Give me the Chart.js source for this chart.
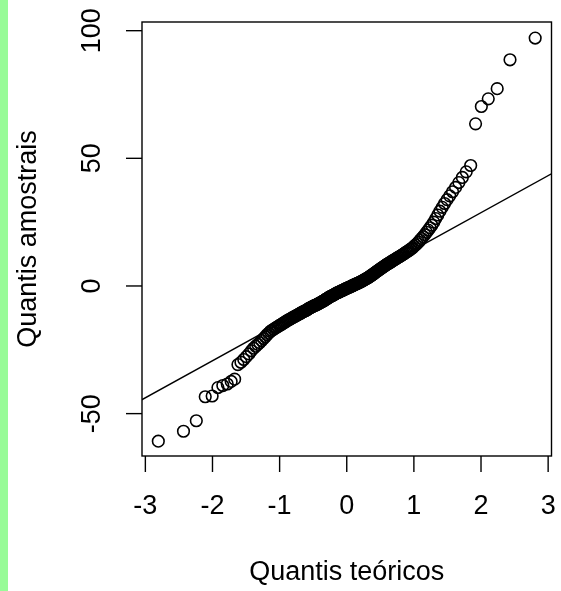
<!DOCTYPE html>
<html>
<head>
<meta charset="utf-8">
<script src="https://cdn.jsdelivr.net/npm/chart.js@4/dist/chart.umd.min.js"></script>
<style>
  html, body { margin: 0; padding: 0; background: #fff; }
  canvas { display: block; }
</style>
</head>
<body>
<canvas id="qq" width="561" height="591"></canvas>
<script>
// theoretical normal quantiles (x) and sorted sample values (y)
const teoricos = [
  -2.807, -2.432, -2.241, -2.108, -2.005, -1.919, -1.846, -1.780, -1.722, -1.670,
  -1.621, -1.576, -1.534, -1.495, -1.457, -1.422, -1.388, -1.356, -1.325, -1.296,
  -1.267, -1.240, -1.213, -1.188, -1.163, -1.138, -1.115, -1.092, -1.069, -1.047,
  -1.026, -1.005, -0.984, -0.964, -0.944, -0.925, -0.906, -0.887, -0.868, -0.850,
  -0.833, -0.815, -0.798, -0.781, -0.764, -0.747, -0.731, -0.714, -0.698, -0.682,
  -0.667, -0.651, -0.636, -0.620, -0.605, -0.590, -0.575, -0.561, -0.546, -0.532,
  -0.517, -0.503, -0.489, -0.475, -0.461, -0.447, -0.433, -0.419, -0.406, -0.392,
  -0.378, -0.365, -0.352, -0.338, -0.325, -0.312, -0.299, -0.286, -0.273, -0.260,
  -0.247, -0.234, -0.221, -0.208, -0.196, -0.183, -0.170, -0.157, -0.145, -0.132,
  -0.119, -0.107, -0.094, -0.082, -0.069, -0.056, -0.044, -0.031, -0.019, -0.006,
  0.006, 0.019, 0.031, 0.044, 0.056, 0.069, 0.082, 0.094, 0.107, 0.119,
  0.132, 0.145, 0.157, 0.170, 0.183, 0.196, 0.208, 0.221, 0.234, 0.247,
  0.260, 0.273, 0.286, 0.299, 0.312, 0.325, 0.338, 0.352, 0.365, 0.378,
  0.392, 0.406, 0.419, 0.433, 0.447, 0.461, 0.475, 0.489, 0.503, 0.517,
  0.532, 0.546, 0.561, 0.575, 0.590, 0.605, 0.620, 0.636, 0.651, 0.667,
  0.682, 0.698, 0.714, 0.731, 0.747, 0.764, 0.781, 0.798, 0.815, 0.833,
  0.850, 0.868, 0.887, 0.906, 0.925, 0.944, 0.964, 0.984, 1.005, 1.026,
  1.047, 1.069, 1.092, 1.115, 1.138, 1.163, 1.188, 1.213, 1.240, 1.267,
  1.296, 1.325, 1.356, 1.388, 1.422, 1.457, 1.495, 1.534, 1.576, 1.621,
  1.670, 1.722, 1.780, 1.846, 1.919, 2.005, 2.108, 2.241, 2.432, 2.807
];

const amostrais = [
  -60.8, -56.9, -52.8, -43.4, -43.1, -39.8, -39.0, -38.4, -37.4, -36.5,
  -30.8, -29.9, -28.8, -27.7, -26.6, -25.4, -24.4, -23.6, -22.9, -22.2,
  -21.4, -20.6, -19.9, -19.1, -18.5, -17.8, -17.4, -17.0, -16.6, -16.2,
  -15.9, -15.5, -15.2, -14.9, -14.5, -14.2, -13.9, -13.6, -13.3, -13.1,
  -12.8, -12.5, -12.3, -12.0, -11.8, -11.5, -11.3, -11.0, -10.8, -10.6,
  -10.3, -10.1, -9.9, -9.7, -9.5, -9.3, -9.0, -8.8, -8.6, -8.4,
  -8.2, -8.0, -7.8, -7.6, -7.5, -7.3, -7.1, -6.9, -6.7, -6.5,
  -6.3, -6.1, -5.9, -5.7, -5.5, -5.2, -5.0, -4.8, -4.6, -4.4,
  -4.2, -4.0, -3.9, -3.7, -3.5, -3.3, -3.1, -2.9, -2.7, -2.6,
  -2.4, -2.3, -2.1, -1.9, -1.8, -1.6, -1.5, -1.3, -1.1, -1.0,
  -0.8, -0.7, -0.5, -0.4, -0.2, -0.1, 0.1, 0.2, 0.4, 0.5,
  0.7, 0.8, 1.0, 1.1, 1.3, 1.5, 1.6, 1.8, 2.0, 2.2,
  2.4, 2.6, 2.8, 3.0, 3.2, 3.4, 3.6, 3.9, 4.1, 4.4,
  4.6, 4.9, 5.1, 5.4, 5.7, 5.9, 6.2, 6.5, 6.7, 7.0,
  7.3, 7.5, 7.8, 8.1, 8.3, 8.6, 8.8, 9.1, 9.3, 9.6,
  9.8, 10.1, 10.3, 10.6, 10.9, 11.2, 11.4, 11.7, 12.0, 12.3,
  12.6, 12.9, 13.3, 13.6, 13.9, 14.3, 14.6, 15.0, 15.6, 16.1,
  16.6, 17.2, 17.9, 18.6, 19.3, 20.1, 21.0, 21.9, 22.8, 23.8,
  25.0, 26.4, 27.8, 29.3, 30.8, 32.3, 33.8, 35.3, 36.9, 38.6,
  40.5, 42.5, 44.7, 47.2, 63.5, 70.3, 73.3, 77.3, 88.6, 97.1
];

// reference line through the quartiles (clipped to the plot box)
const linhaX = [-3.2, 3.2];
const linhaY = [-46.7, 46.1];

const ticksX = [-3, -2, -1, 0, 1, 2, 3];
const ticksY = [-50, 0, 50, 100];

const FONTE = '27px "Liberation Sans", Arial, Helvetica, sans-serif';

// R-style frame: box, outward ticks, rotated y labels, green strip at the left
const estiloR = {
  id: 'estiloR',
  beforeDraw(chart) {
    const ctx = chart.ctx;
    ctx.save();
    ctx.fillStyle = '#ffffff';
    ctx.fillRect(0, 0, chart.width, chart.height);
    ctx.fillStyle = '#98fb98';
    ctx.fillRect(0, 0, 8, chart.height);
    ctx.restore();
  },
  afterDraw(chart) {
    const ctx = chart.ctx;
    const a = chart.chartArea;
    const sx = chart.scales.x;
    const sy = chart.scales.y;
    ctx.save();
    ctx.strokeStyle = '#000';
    ctx.lineWidth = 1.4;
    ctx.strokeRect(a.left, a.top, a.right - a.left, a.bottom - a.top);

    ctx.fillStyle = '#000';
    ctx.font = FONTE;
    ctx.textAlign = 'center';
    ctx.textBaseline = 'middle';

    ticksX.forEach(v => {
      const px = sx.getPixelForValue(v);
      ctx.beginPath();
      ctx.moveTo(px, a.bottom);
      ctx.lineTo(px, a.bottom + 16);
      ctx.stroke();
      ctx.fillText(String(v), px, 507);
    });

    ticksY.forEach(v => {
      const py = sy.getPixelForValue(v);
      ctx.beginPath();
      ctx.moveTo(a.left - 16, py);
      ctx.lineTo(a.left, py);
      ctx.stroke();
      ctx.save();
      ctx.translate(93, py);
      ctx.rotate(-Math.PI / 2);
      ctx.fillText(String(v), 0, 0);
      ctx.restore();
    });

    ctx.fillText('Quantis teóricos', (a.left + a.right) / 2, 573);
    ctx.save();
    ctx.translate(29, (a.top + a.bottom) / 2);
    ctx.rotate(-Math.PI / 2);
    ctx.fillText('Quantis amostrais', 0, 0);
    ctx.restore();
    ctx.restore();
  }
};

new Chart(document.getElementById('qq'), {
  type: 'scatter',
  data: {
    datasets: [
      {
        type: 'line',
        data: linhaX.map((x, i) => ({ x: x, y: linhaY[i] })),
        borderColor: '#000',
        borderWidth: 1.4,
        pointRadius: 0,
        fill: false
      },
      {
        data: teoricos.map((x, i) => ({ x: x, y: amostrais[i] })),
        pointStyle: 'circle',
        pointRadius: 5.8,
        pointBorderWidth: 1.6,
        borderColor: '#000',
        backgroundColor: 'rgba(0,0,0,0)'
      }
    ]
  },
  options: {
    responsive: false,
    animation: false,
    devicePixelRatio: 1,
    layout: { padding: { left: 142, top: 22, right: 9.5, bottom: 135 } },
    plugins: { legend: { display: false }, tooltip: { enabled: false } },
    scales: {
      x: { type: 'linear', min: -3.05, max: 3.05, display: false },
      y: { type: 'linear', min: -66.6, max: 103.4, display: false }
    }
  },
  plugins: [estiloR]
});
</script>
</body>
</html>
